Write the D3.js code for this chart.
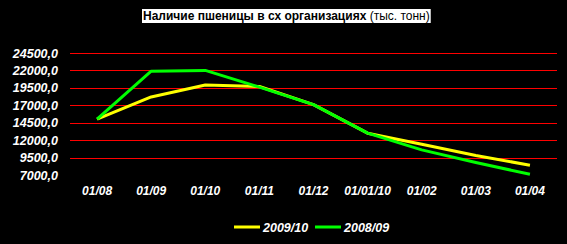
<!DOCTYPE html>
<html>
<head>
<meta charset="utf-8">
<script src="https://cdn.jsdelivr.net/npm/d3@7"></script>
<style>
  body { margin: 0; background: #000; }
  svg { display: block; }
</style>
</head>
<body>
<svg id="chart" width="567" height="244"></svg>
<script>
const months = ["01/08", "01/09", "01/10", "01/11", "01/12", "01/01/10", "01/02", "01/03", "01/04"];
const season0910 = [15000, 18200, 19900, 19700, 17100, 13000, 11400, 9800, 8400];
const season0809 = [15000, 21900, 22000, 19600, 17100, 13000, 10600, 8800, 7100];
const yTicks = [7000, 9500, 12000, 14500, 17000, 19500, 22000, 24500];
const seriesNames = ["2009/10", "2008/09"];
const seriesColors = ["#ffff00", "#00ff00"];

const svg = d3.select("#chart");
const fontFam = "'Liberation Sans', Arial, sans-serif";

const x = d3.scaleBand().domain(months).range([70, 557]);
const y = d3.scaleLinear().domain([7000, 24500]).range([175, 53]);

// title on white box
const title = svg.append("text")
  .attr("x", 143)
  .attr("y", 20)
  .attr("font-family", fontFam)
  .attr("font-size", 12)
  .attr("fill", "#000");
title.append("tspan").attr("font-weight", "bold").text("Наличие пшеницы в сх организациях");
title.append("tspan").text(" (тыс. тонн)");
const tw = title.node().getComputedTextLength();
svg.insert("rect", "text")
  .attr("x", 142)
  .attr("y", 9)
  .attr("width", tw + 2)
  .attr("height", 14)
  .attr("fill", "#fff");

// gridlines
svg.append("g")
  .selectAll("line")
  .data(yTicks.filter(d => d > 7000))
  .enter()
  .append("line")
  .attr("x1", 70)
  .attr("x2", 557)
  .attr("y1", d => Math.round(y(d)) + 0.5)
  .attr("y2", d => Math.round(y(d)) + 0.5)
  .attr("stroke", "#ff0000")
  .attr("stroke-width", 1.2);

// y axis labels
const yAxis = svg.append("g")
  .attr("transform", "translate(58,0)")
  .call(d3.axisLeft(y).tickValues(yTicks).tickSize(0).tickPadding(0)
    .tickFormat(d => d + ",0"));
yAxis.select(".domain").remove();
yAxis.selectAll("text")
  .attr("fill", "#fff")
  .attr("font-family", fontFam)
  .attr("font-size", 12.5)
  .attr("font-weight", "bold")
  .attr("font-style", "italic");

// x axis labels
const xAxis = svg.append("g")
  .attr("transform", "translate(0,186)")
  .call(d3.axisBottom(x).tickSize(0).tickPadding(0));
xAxis.select(".domain").remove();
xAxis.selectAll("text")
  .attr("fill", "#fff")
  .attr("font-family", fontFam)
  .attr("font-size", 12)
  .attr("font-weight", "bold")
  .attr("font-style", "italic");

// lines
const line = d3.line()
  .x((d, i) => x(months[i]) + x.bandwidth() / 2)
  .y(d => y(d));

[season0910, season0809].forEach((s, i) => {
  svg.append("path")
    .datum(s)
    .attr("d", line)
    .attr("fill", "none")
    .attr("stroke", seriesColors[i])
    .attr("stroke-width", 3)
    .attr("stroke-linejoin", "round");
});

// legend
const legend = svg.append("g").attr("transform", "translate(0,227)");
const legendX = [234, 315];
seriesNames.forEach((n, i) => {
  legend.append("line")
    .attr("x1", legendX[i])
    .attr("x2", legendX[i] + 26)
    .attr("y1", 0)
    .attr("y2", 0)
    .attr("stroke", seriesColors[i])
    .attr("stroke-width", 3);
  legend.append("text")
    .attr("x", legendX[i] + 29)
    .attr("y", 4.5)
    .attr("fill", "#fff")
    .attr("font-family", fontFam)
    .attr("font-size", 12.5)
    .attr("font-weight", "bold")
    .attr("font-style", "italic")
    .text(n);
});
</script>
</body>
</html>
